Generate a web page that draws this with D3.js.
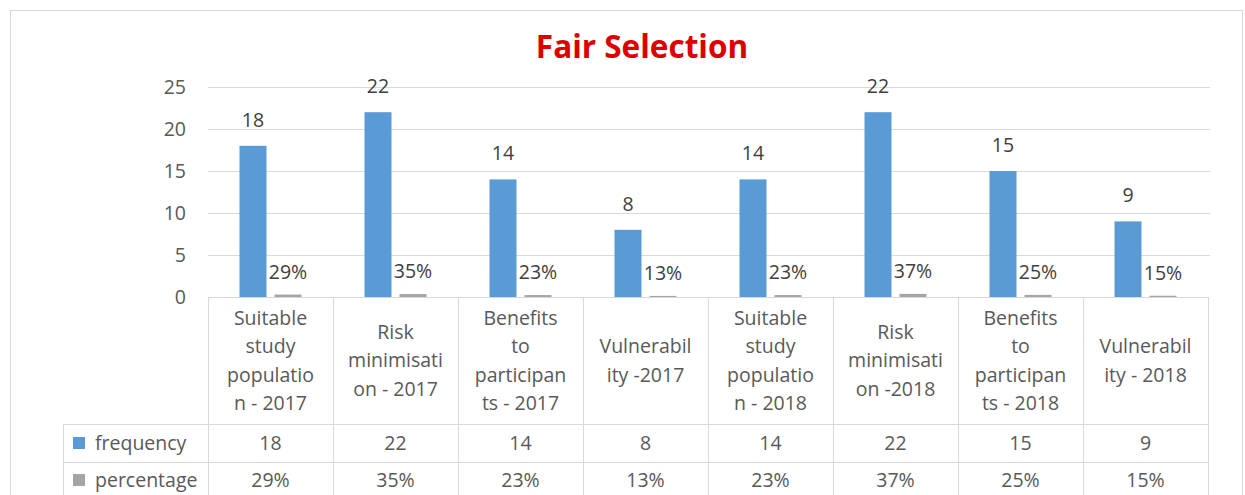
<!DOCTYPE html>
<html>

<head>
    <meta charset="utf-8">
    <style>
        body {
            margin: 0;
            background: white;
        }

        svg {
            display: block;
            font-family: 'Open Sans';
        }

        .tick-label,
        .cat-label,
        .cell,
        .legend-label {
            font-size: 19.5px;
            fill: #595959;
        }

        .bar-label {
            font-size: 19.5px;
            fill: #404040;
        }

        .title {
            font-size: 31.5px;
            font-weight: 700;
            fill: #dd0000;
        }
    </style>
</head>

<body>
    <svg width="1245" height="495"></svg>
</body>

<script src="https://d3js.org/d3.v7.min.js"></script>

<script>
    // categories (as wrapped in the original table), one array of lines each
    let categories = [
        ["Suitable", "study", "populatio", "n - 2017"],
        ["Risk", "minimisati", "on - 2017"],
        ["Benefits", "to", "participan", "ts - 2017"],
        ["Vulnerabil", "ity -2017"],
        ["Suitable", "study", "populatio", "n - 2018"],
        ["Risk", "minimisati", "on -2018"],
        ["Benefits", "to", "participan", "ts - 2018"],
        ["Vulnerabil", "ity - 2018"]
    ]
    let frequency = [18, 22, 14, 8, 14, 22, 15, 9]
    let percentage = [0.29, 0.35, 0.23, 0.13, 0.23, 0.37, 0.25, 0.15]
    let seriesNames = ["frequency", "percentage"]
    let yTicks = [0, 5, 10, 15, 20, 25]

    let colors = { frequency: "#5b9bd5", percentage: "#a5a5a5" }

    let svg = d3.select("svg")

    // outer frame
    svg.append("rect")
        .attr("x", 10.5).attr("y", 10.5)
        .attr("width", 1232).attr("height", 500)
        .style("fill", "none")
        .style("stroke", "#d9d9d9")

    let plotLeft = 208, plotRight = 1208, plotTop = 87, base = 297

    let x = d3.scaleBand()
        .domain(d3.range(categories.length))
        .range([plotLeft, plotRight])

    let sub = d3.scaleBand()
        .domain(seriesNames)
        .range([-31, 31])
        .paddingInner(8 / 35)

    let y = d3.scaleLinear()
        .domain([0, 25])
        .range([base, plotTop])

    // gridlines
    svg.selectAll(".grid")
        .data(yTicks.filter(d => d > 0))
        .join("line")
        .attr("x1", plotLeft)
        .attr("x2", plotRight + 2)
        .attr("y1", d => y(d) + 0.5)
        .attr("y2", d => y(d) + 0.5)
        .style("stroke", "#d9d9d9")
        .style("stroke-width", 1)

    // y axis labels
    svg.selectAll(".tick-label")
        .data(yTicks)
        .join("text")
        .attr("class", "tick-label")
        .attr("x", 186)
        .attr("y", d => y(d))
        .attr("dy", "0.35em")
        .attr("text-anchor", "end")
        .text(d => d)

    let rows = frequency.map((f, i) => ({ i: i, frequency: f, percentage: percentage[i] }))

    // bars
    seriesNames.forEach(s => {
        svg.selectAll(".bar-" + s)
            .data(rows)
            .join("rect")
            .attr("class", "bar-" + s)
            .attr("x", d => x(d.i) + x.bandwidth() / 2 + sub(s))
            .attr("width", sub.bandwidth())
            .attr("y", d => y(d[s]))
            .attr("height", d => base - y(d[s]))
            .style("fill", colors[s])
    })

    // labels above bars
    svg.selectAll(".lab-f")
        .data(rows)
        .join("text")
        .attr("class", "bar-label")
        .attr("x", d => x(d.i) + x.bandwidth() / 2 + sub("frequency") + sub.bandwidth() / 2)
        .attr("y", d => y(d.frequency) - 19)
        .attr("text-anchor", "middle")
        .text(d => d.frequency)

    svg.selectAll(".lab-p")
        .data(rows)
        .join("text")
        .attr("class", "bar-label")
        .attr("x", d => x(d.i) + x.bandwidth() / 2 + sub("percentage") + sub.bandwidth() / 2)
        .attr("y", d => y(d.percentage) - 16)
        .attr("text-anchor", "middle")
        .text(d => d3.format(".0%")(d.percentage))

    // data table
    let tableLeft = 63, row1 = 424, row2 = 462, bottom = 500
    let lineColor = "#d9d9d9"

    let hl = [[plotLeft, base], [tableLeft, row1], [tableLeft, row2]]
    svg.selectAll(".hline")
        .data(hl)
        .join("line")
        .attr("x1", d => d[0])
        .attr("x2", plotRight)
        .attr("y1", d => d[1] + 0.5)
        .attr("y2", d => d[1] + 0.5)
        .style("stroke", lineColor)

    let vx = d3.range(categories.length + 1).map(i => i < categories.length ? x(i) : plotRight)
    svg.selectAll(".vline")
        .data(vx)
        .join("line")
        .attr("x1", d => d + 0.5)
        .attr("x2", d => d + 0.5)
        .attr("y1", base)
        .attr("y2", bottom)
        .style("stroke", lineColor)

    svg.append("line")
        .attr("x1", tableLeft + 0.5).attr("x2", tableLeft + 0.5)
        .attr("y1", row1).attr("y2", bottom)
        .style("stroke", lineColor)

    // category labels
    let lineH = 28.5
    let catG = svg.selectAll(".cat")
        .data(categories)
        .join("text")
        .attr("class", "cat-label")
        .attr("text-anchor", "middle")
        .attr("transform", (d, i) => "translate(" + (x(i) + x.bandwidth() / 2) + "," + ((base + row1) / 2 - (d.length - 1) * lineH / 2) + ")")

    catG.selectAll("tspan")
        .data(d => d)
        .join("tspan")
        .attr("x", 0)
        .attr("y", (d, j) => j * lineH)
        .attr("dy", "0.35em")
        .text(d => d)

    // table values
    let rowY = { frequency: (row1 + row2) / 2, percentage: 480 }
    svg.selectAll(".cell-f")
        .data(rows)
        .join("text")
        .attr("class", "cell")
        .attr("x", d => x(d.i) + x.bandwidth() / 2)
        .attr("y", rowY.frequency)
        .attr("dy", "0.35em")
        .attr("text-anchor", "middle")
        .text(d => d.frequency)

    svg.selectAll(".cell-p")
        .data(rows)
        .join("text")
        .attr("class", "cell")
        .attr("x", d => x(d.i) + x.bandwidth() / 2)
        .attr("y", rowY.percentage)
        .attr("dy", "0.35em")
        .attr("text-anchor", "middle")
        .text(d => d3.format(".0%")(d.percentage))

    // legend keys in the table
    seriesNames.forEach(s => {
        svg.append("rect")
            .attr("x", 73)
            .attr("y", rowY[s] - 6)
            .attr("width", 12)
            .attr("height", 12)
            .style("fill", colors[s])
        svg.append("text")
            .attr("class", "legend-label")
            .attr("x", 95)
            .attr("y", rowY[s])
            .attr("dy", "0.35em")
            .text(s)
    })

    // title
    svg.append("text")
        .attr("class", "title")
        .attr("x", 642)
        .attr("y", 58)
        .attr("text-anchor", "middle")
        .text("Fair Selection")
</script>

</html>
